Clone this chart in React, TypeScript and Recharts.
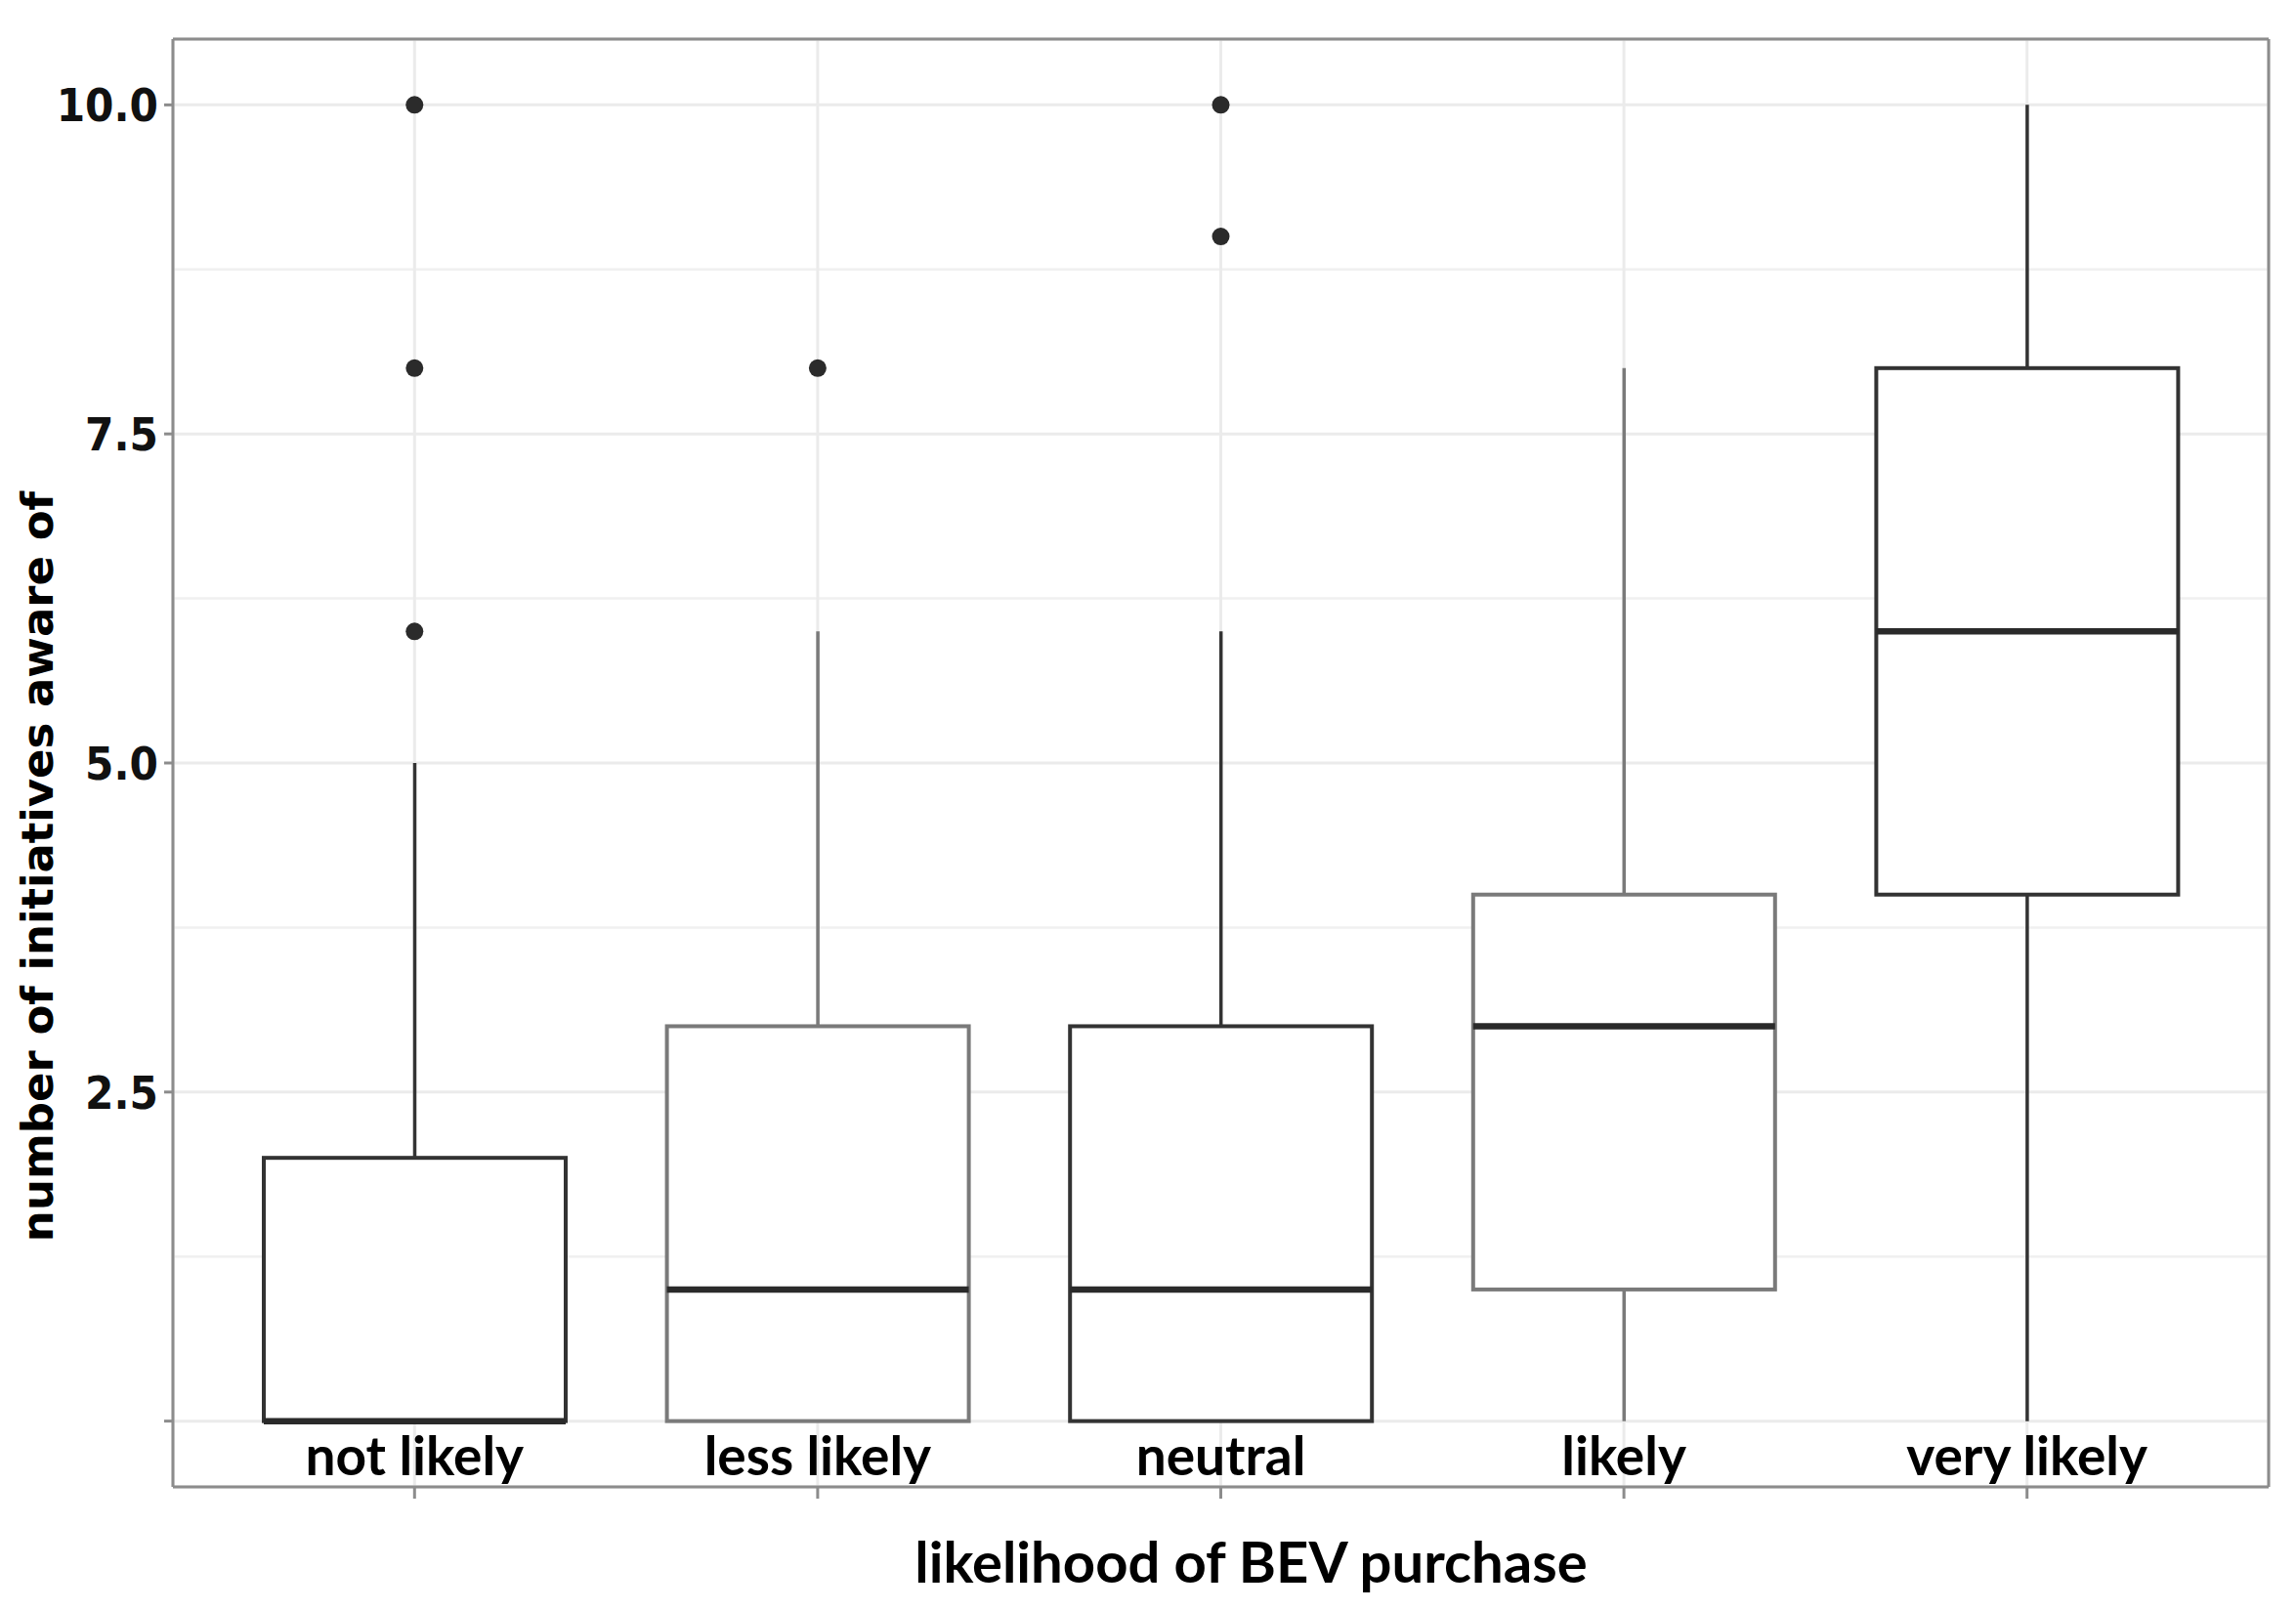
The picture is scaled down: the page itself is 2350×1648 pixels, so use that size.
import React from "react";
import {
  ComposedChart,
  Bar,
  Scatter,
  XAxis,
  YAxis,
  CartesianGrid,
} from "recharts";

// categories and five-number summaries
const categories = ["not likely", "less likely", "neutral", "likely", "very likely"];
const whiskerLow = [0, 0, 0, 0, 0];
const lowerQuartile = [0, 0, 0, 1, 4];
const medians = [0, 1, 1, 3, 6];
const upperQuartile = [2, 3, 3, 4, 8];
const whiskerHigh = [5, 6, 6, 8, 10];

// outliers: category index + value
const outlierCat = [0, 0, 0, 1, 2, 2];
const outlierValue = [6, 8, 10, 8, 9, 10];

const yTicks = [0, 2.5, 5, 7.5, 10];
const yMinorTicks = [1.25, 3.75, 6.25, 8.75];

const boxStroke = ["#333333", "#7a7a7a", "#333333", "#7a7a7a", "#333333"];

const rows = categories.map((cat, i) => ({
  cat,
  lo: whiskerLow[i],
  q1: lowerQuartile[i],
  med: medians[i],
  q3: upperQuartile[i],
  hi: whiskerHigh[i],
}));

const outliers = outlierCat.map((c, i) => ({ cat: categories[c], v: outlierValue[i] }));

const BORDER = "#8c8c8c";
const X_FONT = "Lato, 'Open Sans', sans-serif";
const Y_FONT = "'DejaVu Sans Condensed', 'DejaVu Sans', sans-serif";

const BoxShape = (props: any) => {
  const { x, y, width, height, payload, index } = props;
  const top = Math.min(y, y + height);
  const bottom = Math.max(y, y + height);
  const k = (bottom - top) / (payload.hi - payload.lo);
  const py = (v: number) => bottom - (v - payload.lo) * k;
  const cx = x + width / 2;
  const col = boxStroke[index] || "#333";
  return (
    <g>
      <line x1={cx} x2={cx} y1={py(payload.hi)} y2={py(payload.q3)} stroke={col} strokeWidth={3.5} />
      <line x1={cx} x2={cx} y1={py(payload.q1)} y2={py(payload.lo)} stroke={col} strokeWidth={3.5} />
      <rect
        x={x}
        y={py(payload.q3)}
        width={width}
        height={py(payload.q1) - py(payload.q3)}
        fill="#ffffff"
        stroke={col}
        strokeWidth={4}
      />
      <line x1={x} x2={x + width} y1={py(payload.med)} y2={py(payload.med)} stroke="#2a2a2a" strokeWidth={6.5} />
    </g>
  );
};

const XTick = (props: any) => {
  const { x, y, payload } = props;
  return (
    <text
      x={x}
      y={y - 24}
      textAnchor="middle"
      fontFamily={X_FONT}
      fontWeight={700}
      fontSize={55}
      fill="#000"
    >
      {payload.value}
    </text>
  );
};

const XTitle = (props: any) => {
  const { viewBox } = props;
  return (
    <text
      x={viewBox.x + viewBox.width / 2 + 31}
      y={viewBox.y + 98}
      textAnchor="middle"
      fontFamily={X_FONT}
      fontWeight={700}
      fontSize={58}
      fill="#000"
    >
      likelihood of BEV purchase
    </text>
  );
};

const YTitle = (props: any) => {
  const { viewBox } = props;
  const cx = viewBox.x + 38;
  const cy = viewBox.y + viewBox.height / 2 + 106;
  return (
    <text
      x={cx}
      y={cy}
      transform={`rotate(-90 ${cx} ${cy})`}
      textAnchor="middle"
      dominantBaseline="central"
      fontFamily="'DejaVu Sans', sans-serif"
      fontWeight={700}
      fontSize={45}
      fill="#000"
    >
      number of initiatives aware of
    </text>
  );
};

export default function App() {
  return (
    <div style={{ position: "absolute", left: 0, top: 0, background: "#fff" }}>
      <ComposedChart
        width={2350}
        height={1648}
        data={rows}
        margin={{ top: 40, right: 28, bottom: 0, left: 0 }}
      >
        {/* minor grid */}
        <CartesianGrid vertical={false} horizontalValues={yMinorTicks} stroke="#f0f0f0" strokeWidth={2.5} />
        {/* major grid */}
        <CartesianGrid stroke="#ebebeb" strokeWidth={3} />
        {/* top and right panel border */}
        <CartesianGrid
          stroke={BORDER}
          strokeWidth={3}
          horizontalCoordinatesGenerator={({ offset }: any) => [offset.top]}
          verticalCoordinatesGenerator={({ offset }: any) => [offset.left + offset.width]}
        />
        <XAxis
          dataKey="cat"
          type="category"
          allowDuplicatedCategory={false}
          height={126}
          padding={{ left: 41, right: 41 }}
          interval={0}
          axisLine={{ stroke: BORDER, strokeWidth: 3 }}
          tickLine={{ stroke: BORDER, strokeWidth: 3 }}
          tickSize={12}
          tickMargin={0}
          tick={<XTick />}
          label={<XTitle />}
        />
        <YAxis
          type="number"
          domain={[-0.5, 10.5]}
          ticks={yTicks}
          interval={0}
          width={177}
          axisLine={{ stroke: BORDER, strokeWidth: 3 }}
          tickLine={{ stroke: BORDER, strokeWidth: 3 }}
          tickSize={9}
          tickMargin={6}
          tickFormatter={(v: number) => (v === 0 ? "" : v.toFixed(1))}
          tick={{ fontFamily: Y_FONT, fontWeight: 700, fontSize: 47, fill: "#111" }}
          label={<YTitle />}
        />
        <Bar
          dataKey={(d: any) => [d.lo, d.hi]}
          barSize={309}
          shape={<BoxShape />}
          isAnimationActive={false}
        />
        <Scatter
          data={outliers}
          dataKey="v"
          fill="#2b2b2b"
          shape={(p: any) => <circle cx={p.cx} cy={p.cy} r={9} fill="#2b2b2b" />}
          isAnimationActive={false}
        />
      </ComposedChart>
    </div>
  );
}
